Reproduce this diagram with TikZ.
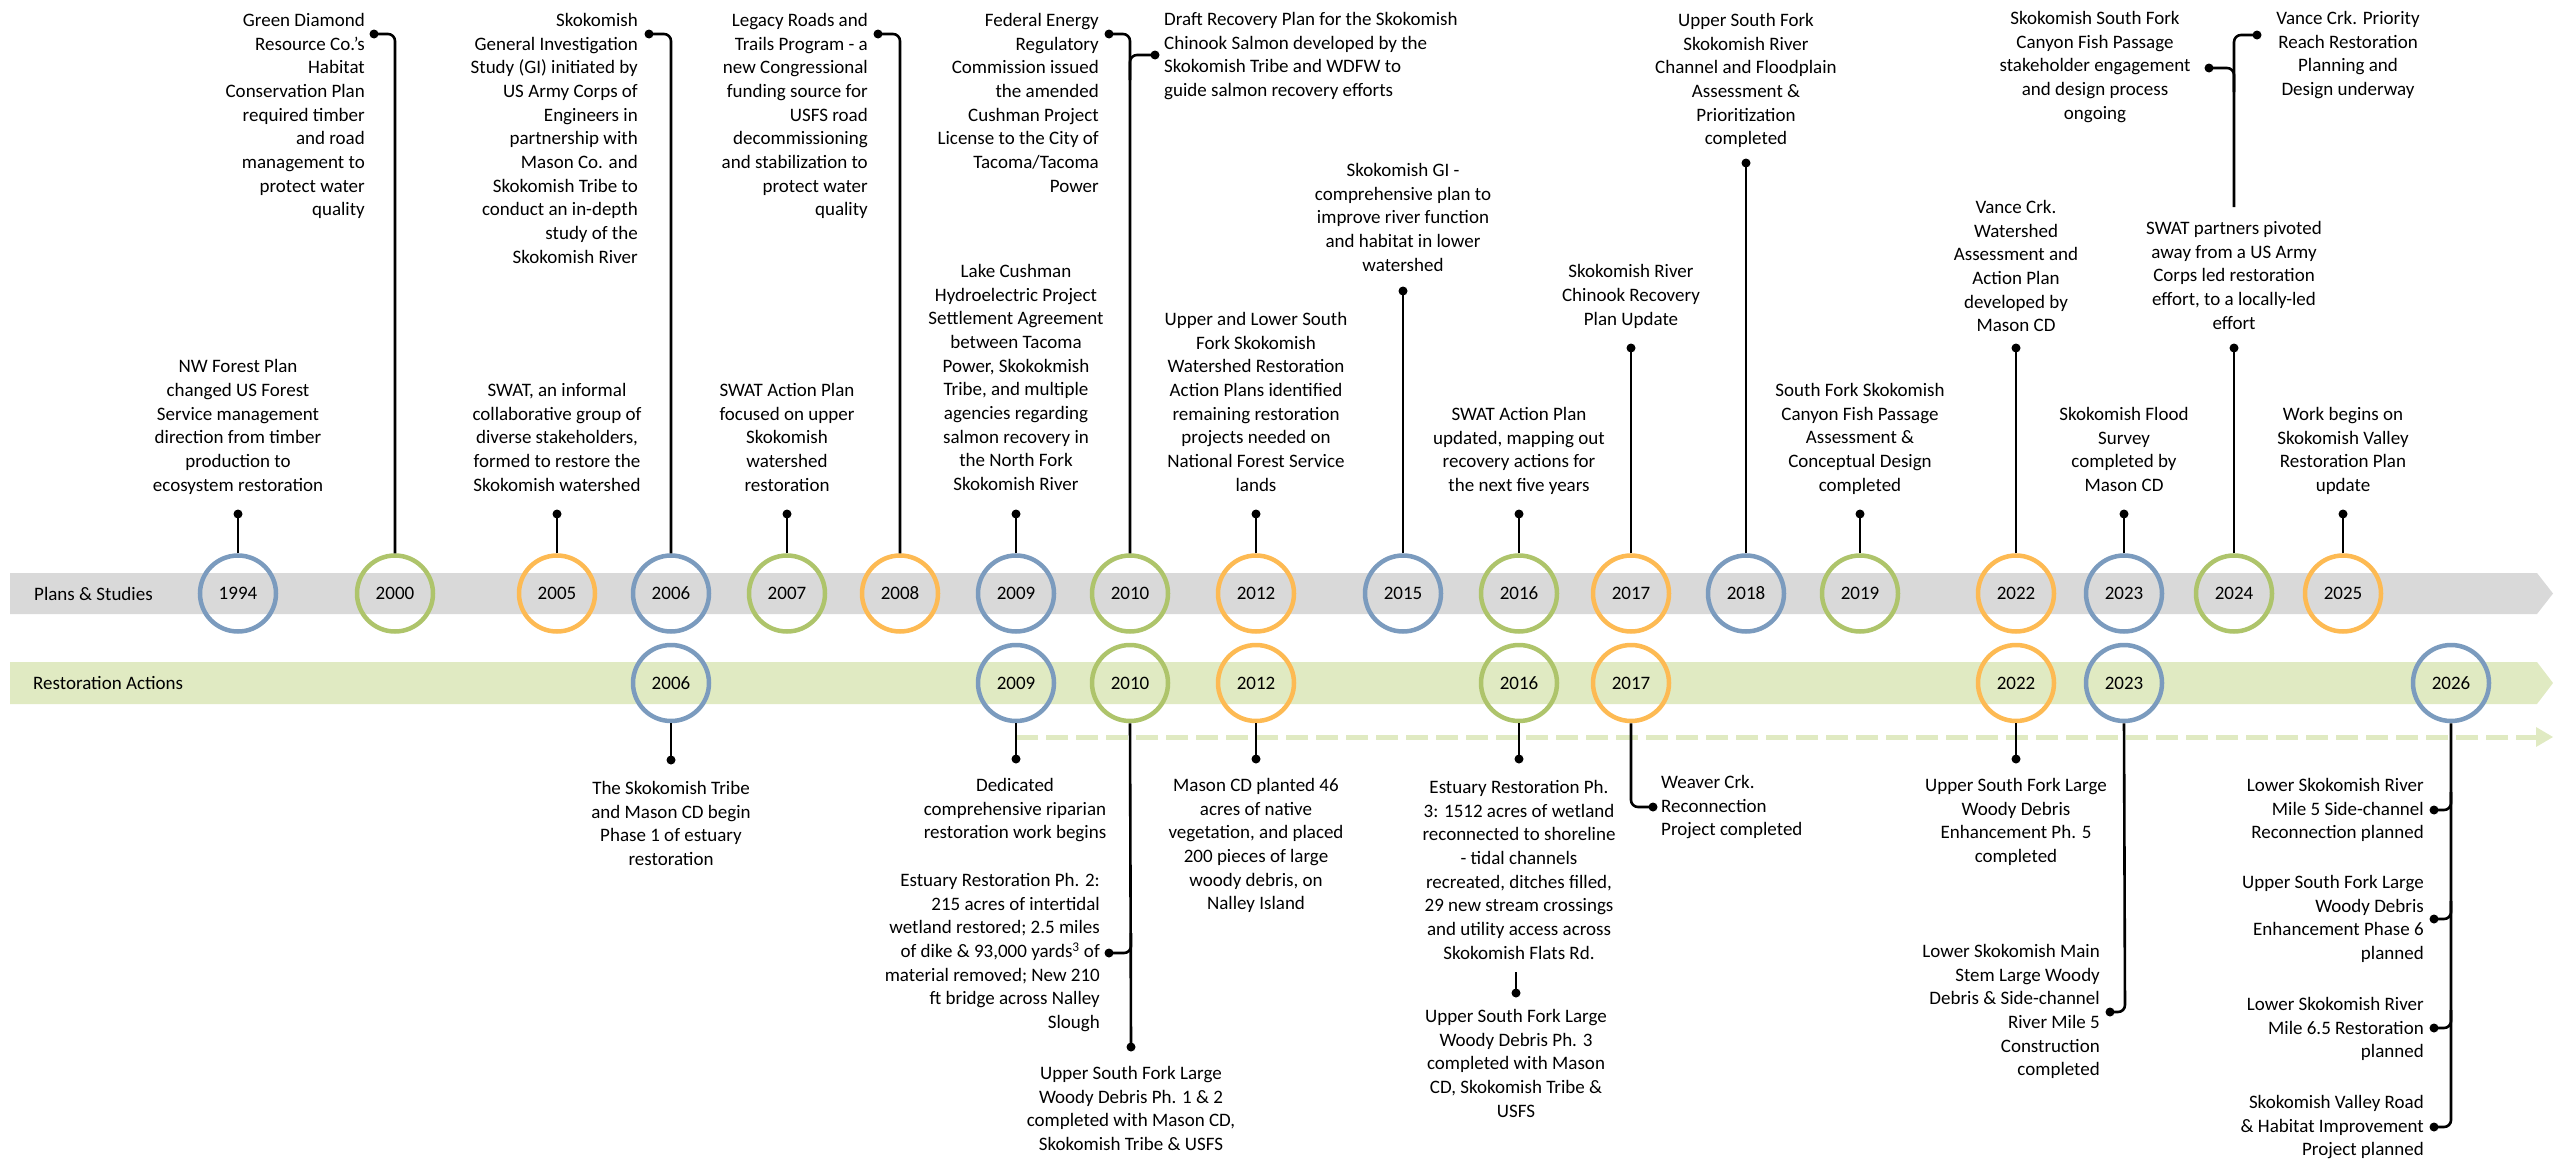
\documentclass[tikz,border=0pt]{standalone}
\usepackage{fontspec}
\setmainfont{Carlito}
\definecolor{cblue}{HTML}{7B9BBE}
\definecolor{cgreen}{HTML}{AEC46B}
\definecolor{corange}{HTML}{FDBA53}
\definecolor{bandgray}{HTML}{D9D9D9}
\definecolor{bandgreen}{HTML}{E0EAC2}
\begin{document}
\begin{tikzpicture}[x=1pt,y=-1pt,
  lbl/.style={font=\fontsize{19}{23.7}\selectfont, inner sep=0pt, align=center, anchor=north},
  lblr/.style={lbl, align=right, anchor=north east},
  lbll/.style={lbl, align=left, anchor=north west},
  yr/.style={circle, draw=#1, line width=4.5pt, minimum size=76pt, inner sep=0pt, font=\fontsize{19}{23}\selectfont},
  stem/.style={line width=2.6pt, black, rounded corners=7pt},
  band/.style={font=\fontsize{19}{23}\selectfont, anchor=west, inner sep=0pt}]
\useasboundingbox (0,0) rectangle (2560,1170);
% bands
\fill[bandgray] (10,573) -- (2537,573) -- (2553,593.5) -- (2537,614) -- (10,614) -- cycle;
\fill[bandgreen] (10,662) -- (2537,662) -- (2553,683) -- (2537,704) -- (10,704) -- cycle;
\draw[bandgreen, line width=5pt, dash pattern=on 22pt off 8pt] (1016,737) -- (2536,737);
\fill[bandgreen] (2536,727) -- (2553,737) -- (2536,747) -- cycle;
\node[band] (lp) at (34,593.5) {Plans \& Studies};
\node[band] (lr) at (33,683) {Restoration Actions};
% plans circles
\foreach \n/\x/\c in {1994/238/cblue,2000/395/cgreen,2005/557/corange,2006/671/cblue,2007/787/cgreen,2008/900/corange,2009/1016/cblue,2010/1130/cgreen,2012/1256/corange,2015/1403/cblue,2016/1519/cgreen,2017/1631/corange,2018/1746/cblue,2019/1860/cgreen,2022/2016/corange,2023/2124/cblue,2024/2234/cgreen,2025/2343/corange}
  \node[yr=\c] (p\n) at (\x,593.5) {\n};
\foreach \n/\x/\c in {2006/671/cblue,2009/1016/cblue,2010/1130/cgreen,2012/1256/corange,2016/1519/cgreen,2017/1631/corange,2022/2016/corange,2023/2124/cblue,2026/2451/cblue}
  \node[yr=\c] (r\n) at (\x,683) {\n};
% dots / coordinates top
\coordinate (d1994) at (238,514);
\coordinate (d2005) at (557,514);
\coordinate (d2007) at (787,514);
\coordinate (d2009) at (1016,514);
\coordinate (d2012) at (1256,514);
\coordinate (d2016) at (1519,514);
\coordinate (d2019) at (1860,514);
\coordinate (d2023) at (2124,514);
\coordinate (d2025) at (2343,514);
\coordinate (d2015) at (1403,291);
\coordinate (d2017) at (1631,348);
\coordinate (d2018) at (1746,163);
\coordinate (d2022) at (2016,348);
\coordinate (d2024) at (2234,348);
\foreach \n in {1994,2005,2007,2009,2012,2016,2019,2023,2025,2015,2017,2018,2022,2024}{
  \draw[stem] (p\n.north) -- (d\n);
  \fill (d\n) circle (4.5pt);
}
\coordinate (h2000) at (374,34);
\coordinate (h2006) at (649,34);
\coordinate (h2008) at (878,34);
\coordinate (h2010a) at (1109,34);
\coordinate (h2010b) at (1155,55);
\draw[stem] (p2000.north) -- (395,34) -- (h2000);
\draw[stem] (p2006.north) -- (671,34) -- (h2006);
\draw[stem] (p2008.north) -- (900,34) -- (h2008);
\draw[stem] (p2010.north) -- (1130,34) -- (h2010a);
\draw[stem] (1130,80) -- (1130,55) -- (h2010b);
\coordinate (s2024) at (2234,207);
\coordinate (h2024a) at (2257,35);
\coordinate (h2024b) at (2209,68);
\draw[stem] (s2024) -- (2234,35) -- (h2024a);
\draw[stem] (2234,92) -- (2234,68) -- (h2024b);
\foreach \h in {h2000,h2006,h2008,h2010a,h2010b,h2024a,h2024b} \fill (\h) circle (4.5pt);
% bottom connectors
\coordinate (b2006) at (671,760);
\coordinate (b2009) at (1016,759);
\coordinate (b2012) at (1256,759);
\coordinate (b2016) at (1519,759);
\coordinate (b2022) at (2016,759);
\foreach \n in {2006,2009,2012,2016,2022}{
  \draw[stem] (r\n.south) -- (b\n);
  \fill (b\n) circle (4.5pt);
}
\coordinate (b2010) at (1131,1047);
\coordinate (b2010h) at (1109,953);
\draw[stem] (r2010.south) -- (b2010);
\draw[stem] (1131,933) -- (1131,953) -- (b2010h);
\coordinate (b2016a) at (1516,972);
\coordinate (b2016b) at (1516,993);
\draw[stem] (b2016a) -- (b2016b);
\coordinate (b2017) at (1653,807);
\draw[stem] (r2017.south) -- (1631,807) -- (b2017);
\coordinate (b2023) at (2110,1012);
\draw[stem] (r2023.south) -- (2125,1012) -- (b2023);
\coordinate (c1) at (2434,810);
\coordinate (c2) at (2434,919);
\coordinate (c3) at (2434,1028);
\coordinate (c4) at (2434,1127);
\draw[stem] (r2026.south) -- (2451,1127) -- (c4);
\draw[stem] (2451,792) -- (2451,810) -- (c1);
\draw[stem] (2451,901) -- (2451,919) -- (c2);
\draw[stem] (2451,1010) -- (2451,1028) -- (c3);
\foreach \h in {b2010,b2010h,b2016b,b2017,b2023,c1,c2,c3,c4} \fill (\h) circle (4.5pt);
% top texts
\node[lbl] (t1994) at (238,359.5) {NW Forest Plan\\changed US Forest\\Service management\\direction from timber\\production to\\ecosystem restoration};
\node[lblr] (t2000) at (365,13) {Green Diamond\\Resource Co.'s\\Habitat\\Conservation Plan\\required timber\\and road\\management to\\protect water\\quality};
\node[lbl] (t2005) at (557,383) {SWAT, an informal\\collaborative group of\\diverse stakeholders,\\formed to restore the\\Skokomish watershed};
\node[lblr] (t2006) at (638,13) {Skokomish\\General Investigation\\Study (GI) initiated by\\US Army Corps of\\Engineers in\\partnership with\\Mason Co. and\\Skokomish Tribe to\\conduct an in-depth\\study of the\\Skokomish River};
\node[lbl] (t2007) at (787,383) {SWAT Action Plan\\focused on upper\\Skokomish\\watershed\\restoration};
\node[lblr] (t2008) at (868,13) {Legacy Roads and\\Trails Program - a\\new Congressional\\funding source for\\USFS road\\decommissioning\\and stabilization to\\protect water\\quality};
\node[lbl] (t2009) at (1016,264) {Lake Cushman\\Hydroelectric Project\\Settlement Agreement\\between Tacoma\\Power, Skokokmish\\Tribe, and multiple\\agencies regarding\\salmon recovery in\\the North Fork\\Skokomish River};
\node[lblr] (t2010a) at (1099,13) {Federal Energy\\Regulatory\\Commission issued\\the amended\\Cushman Project\\License to the City of\\Tacoma/Tacoma\\Power};
\node[lbll] (t2010b) at (1164,12) {Draft Recovery Plan for the Skokomish\\Chinook Salmon developed by the\\Skokomish Tribe and WDFW to\\guide salmon recovery efforts};
\node[lbl] (t2012) at (1256,312) {Upper and Lower South\\Fork Skokomish\\Watershed Restoration\\Action Plans identified\\remaining restoration\\projects needed on\\National Forest Service\\lands};
\node[lbl] (t2015) at (1403,163) {Skokomish GI -\\comprehensive plan to\\improve river function\\and habitat in lower\\watershed};
\node[lbl] (t2016) at (1519,407) {SWAT Action Plan\\updated, mapping out\\recovery actions for\\the next five years};
\node[lbl] (t2017) at (1631,264.6) {Skokomish River\\Chinook Recovery\\Plan Update};
\node[lbl] (t2018) at (1746,13) {Upper South Fork\\Skokomish River\\Channel and Floodplain\\Assessment \&\\Prioritization\\completed};
\node[lbl] (t2019) at (1860,383) {South Fork Skokomish\\Canyon Fish Passage\\Assessment \&\\Conceptual Design\\completed};
\node[lbl] (t2022) at (2016,200) {Vance Crk.\\Watershed\\Assessment and\\Action Plan\\developed by\\Mason CD};
\node[lbl] (t2023) at (2124,407) {Skokomish Flood\\Survey\\completed by\\Mason CD};
\node[lbl] (t2024) at (2234,221) {SWAT partners pivoted\\away from a US Army\\Corps led restoration\\effort, to a locally-led\\effort};
\node[lbl] (t2024a) at (2095,11) {Skokomish South Fork\\Canyon Fish Passage\\stakeholder engagement\\and design process\\ongoing};
\node[lbl] (t2024b) at (2348,11) {Vance Crk. Priority\\Reach Restoration\\Planning and\\Design underway};
\node[lbl] (t2025) at (2343,407) {Work begins on\\Skokomish Valley\\Restoration Plan\\update};
% bottom texts
\node[lbl] (u2006) at (671,781) {The Skokomish Tribe\\and Mason CD begin\\Phase 1 of estuary\\restoration};
\node[lbl] (u2009) at (1015,778) {Dedicated\\comprehensive riparian\\restoration work begins};
\node[lblr] (u2010a) at (1100,873) {Estuary Restoration Ph. 2:\\215 acres of intertidal\\wetland restored; 2.5 miles\\of dike \& 93,000 yards\textsuperscript{3} of\\material removed; New 210\\ft bridge across Nalley\\Slough};
\node[lbl] (u2010b) at (1131,1066) {Upper South Fork Large\\Woody Debris Ph. 1 \& 2\\completed with Mason CD,\\Skokomish Tribe \& USFS};
\node[lbl] (u2012) at (1256,778) {Mason CD planted 46\\acres of native\\vegetation, and placed\\200 pieces of large\\woody debris, on\\Nalley Island};
\node[lbl] (u2016a) at (1519,780) {Estuary Restoration Ph.\\3: 1512 acres of wetland\\reconnected to shoreline\\- tidal channels\\recreated, ditches filled,\\29 new stream crossings\\and utility access across\\Skokomish Flats Rd.};
\node[lbl] (u2016b) at (1516,1009) {Upper South Fork Large\\Woody Debris Ph. 3\\completed with Mason\\CD, Skokomish Tribe \&\\USFS};
\node[lbll] (u2017) at (1661,775) {Weaver Crk.\\Reconnection\\Project completed};
\node[lbl] (u2022) at (2016,778) {Upper South Fork Large\\Woody Debris\\Enhancement Ph. 5\\completed};
\node[lblr] (u2023) at (2100,944) {Lower Skokomish Main\\Stem Large Woody\\Debris \& Side-channel\\River Mile 5\\Construction\\completed};
\node[lblr] (u2026a) at (2424,778) {Lower Skokomish River\\Mile 5 Side-channel\\Reconnection planned};
\node[lblr] (u2026b) at (2424,875) {Upper South Fork Large\\Woody Debris\\Enhancement Phase 6\\planned};
\node[lblr] (u2026c) at (2424,997) {Lower Skokomish River\\Mile 6.5 Restoration\\planned};
\node[lblr] (u2026d) at (2424,1095) {Skokomish Valley Road\\\& Habitat Improvement\\Project planned};
\end{tikzpicture}
\end{document}
